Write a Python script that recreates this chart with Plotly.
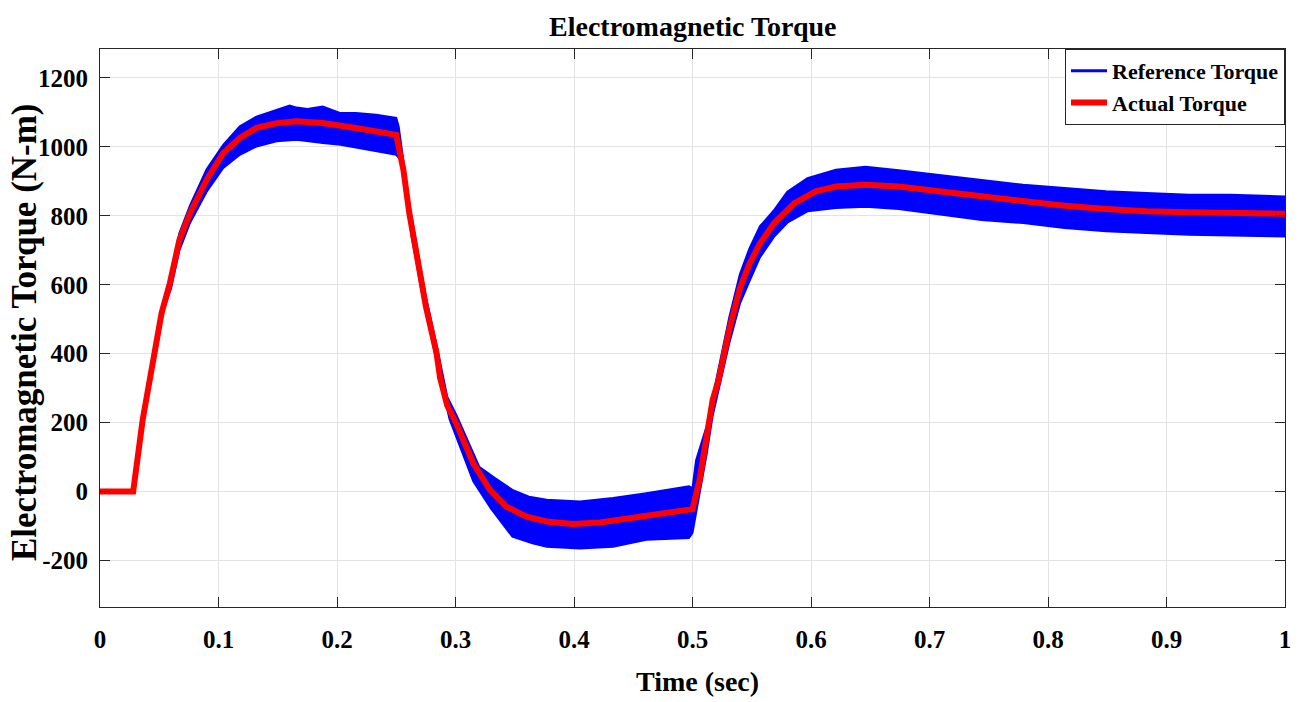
import plotly.graph_objects as go

# ---- data ----
actual_t = [0, 0.028, 0.036, 0.042, 0.052, 0.059, 0.067, 0.076, 0.090, 0.104, 0.118, 0.132,
            0.149, 0.166, 0.188, 0.216, 0.250, 0.256, 0.261, 0.270, 0.275, 0.284, 0.287,
            0.293, 0.301, 0.315, 0.329, 0.343, 0.360, 0.377, 0.399, 0.422, 0.450, 0.478,
            0.500, 0.506, 0.512, 0.517, 0.522, 0.531, 0.540, 0.548, 0.557, 0.569, 0.586,
            0.604, 0.621, 0.646, 0.674, 0.709, 0.744, 0.779, 0.814, 0.849, 0.883, 0.919,
            0.954, 1.0]
actual_torque = [0, 0, 208, 324, 518, 605, 730, 808, 905, 982, 1026, 1055,
                 1069, 1074, 1069, 1055, 1035, 934, 808, 634, 537, 402, 330,
                 250, 195, 82, 5, -44, -73, -87, -94, -90, -77, -63,
                 -51, 34, 150, 266, 324, 470, 590, 660, 720, 779, 837,
                 871, 885, 890, 885, 871, 856, 842, 829, 820, 813, 810,
                 808, 806]

ref_upper_t = [0.028, 0.036, 0.042, 0.052, 0.060, 0.067, 0.076, 0.090, 0.104, 0.118, 0.132,
               0.149, 0.160, 0.166, 0.175, 0.188, 0.203, 0.216, 0.233, 0.250, 0.252, 0.256,
               0.261, 0.270, 0.275, 0.284, 0.293, 0.301, 0.315, 0.320, 0.333, 0.348, 0.362,
               0.377, 0.405, 0.433, 0.461, 0.497, 0.500, 0.503, 0.512, 0.522, 0.531,
               0.540, 0.548, 0.557, 0.569, 0.580, 0.597, 0.621, 0.646, 0.674, 0.709,
               0.744, 0.779, 0.814, 0.849, 0.883, 0.919, 0.954, 1.0]
ref_upper = [0, 208, 324, 525, 625, 750, 830, 935, 1006, 1060, 1088,
             1107, 1120, 1114, 1110, 1117, 1098, 1098, 1093, 1084, 1060, 960,
             835, 660, 565, 425, 275, 220, 110, 72, 40, 5, -15,
             -24, -29, -19, -5, 15, 10, 90, 190, 360, 505,
             630, 705, 770, 817, 870, 909, 934, 942, 932, 919,
             904, 890, 881, 871, 866, 861, 861, 856]

ref_lower_t = [0.028, 0.036, 0.042, 0.052, 0.060, 0.067, 0.076, 0.090, 0.104, 0.118, 0.132,
               0.149, 0.166, 0.188, 0.203, 0.216, 0.233, 0.250, 0.254, 0.258, 0.263,
               0.272, 0.278, 0.287, 0.295, 0.305, 0.315, 0.330, 0.348, 0.365, 0.377,
               0.405, 0.433, 0.461, 0.497, 0.500, 0.506, 0.512, 0.517, 0.522, 0.531,
               0.540, 0.548, 0.557, 0.569, 0.580, 0.597, 0.621, 0.646, 0.674, 0.709,
               0.744, 0.779, 0.814, 0.849, 0.883, 0.919, 0.954, 1.0]
ref_lower = [0, 208, 324, 510, 590, 700, 780, 870, 939, 977, 1001,
             1016, 1021, 1011, 1006, 997, 987, 977, 960, 860, 740,
             570, 470, 330, 210, 120, 30, -50, -131, -150, -160,
             -165, -160, -140, -135, -120, 0, 110, 220, 290, 430,
             545, 610, 680, 740, 780, 813, 823, 826, 820, 803,
             788, 779, 765, 755, 750, 745, 742, 740]

x_ticks = [0, 0.1, 0.2, 0.3, 0.4, 0.5, 0.6, 0.7, 0.8, 0.9, 1]
x_tick_text = ["0", "0.1", "0.2", "0.3", "0.4", "0.5", "0.6", "0.7", "0.8", "0.9", "1"]
y_ticks = [-200, 0, 200, 400, 600, 800, 1000, 1200]
y_tick_text = ["-200", "0", "200", "400", "600", "800", "1000", "1200"]

FONT = "Liberation Serif"
BLUE = "#0000ff"
RED = "#ff0000"

fig = go.Figure()

# noisy reference torque drawn as its envelope band
band_x = ref_upper_t + ref_lower_t[::-1]
band_y = ref_upper + ref_lower[::-1]
fig.add_trace(go.Scatter(x=band_x, y=band_y, mode="lines", fill="toself",
                         fillcolor=BLUE, line=dict(color=BLUE, width=2),
                         showlegend=False, hoverinfo="skip"))
fig.add_trace(go.Scatter(x=[None], y=[None], mode="lines", name="Reference Torque",
                         line=dict(color=BLUE, width=3)))
fig.add_trace(go.Scatter(x=actual_t, y=actual_torque, mode="lines", name="Actual Torque",
                         line=dict(color=RED, width=6)))

axis_common = dict(showline=True, linecolor="#262626", linewidth=1, mirror="ticks",
                   ticks="inside", ticklen=10, tickcolor="#262626", tickwidth=1,
                   showgrid=True, gridcolor="#e3e3e3", gridwidth=1, zeroline=False,
                   tickfont=dict(family=FONT, size=25, color="#000000", weight="bold"))

fig.update_xaxes(range=[0, 1], tickvals=x_ticks, ticktext=x_tick_text,
                 ticklabelstandoff=10, **axis_common)
fig.update_yaxes(range=[-335, 1284], tickvals=y_ticks, ticktext=y_tick_text,
                 ticklabelstandoff=6, **axis_common)

plot_w = 1306 - 100 - 21
plot_h = 702 - 49 - 95


def px_to_paper_x(px):
    return (px - 100) / plot_w


def px_to_paper_y(py):
    return (702 - 95 - py) / plot_h


fig.update_layout(
    width=1306, height=702,
    margin=dict(l=100, r=21, t=49, b=95, autoexpand=False),
    paper_bgcolor="white", plot_bgcolor="white",
    showlegend=True,
    legend=dict(x=1, y=1, xanchor="right", yanchor="top",
                bgcolor="white", bordercolor="#262626", borderwidth=1,
                font=dict(family=FONT, size=22, color="#000000", weight="bold"),
                itemwidth=36, tracegroupgap=0),
    annotations=[
        dict(text="<b>Electromagnetic Torque</b>", xref="paper", yref="paper",
             x=px_to_paper_x(693), y=px_to_paper_y(27), xanchor="center", yanchor="middle",
             showarrow=False, font=dict(family=FONT, size=28, color="#000000")),
        dict(text="<b>Time (sec)</b>", xref="paper", yref="paper",
             x=px_to_paper_x(697), y=px_to_paper_y(681), xanchor="center", yanchor="middle",
             showarrow=False, font=dict(family=FONT, size=28, color="#000000")),
        dict(text="<b>Electromagnetic Torque (N-m)</b>", xref="paper", yref="paper",
             x=px_to_paper_x(24), y=px_to_paper_y(332), xanchor="center", yanchor="middle",
             showarrow=False, textangle=-90, font=dict(family=FONT, size=35, color="#000000")),
    ],
)

fig.write_html("out.html")
